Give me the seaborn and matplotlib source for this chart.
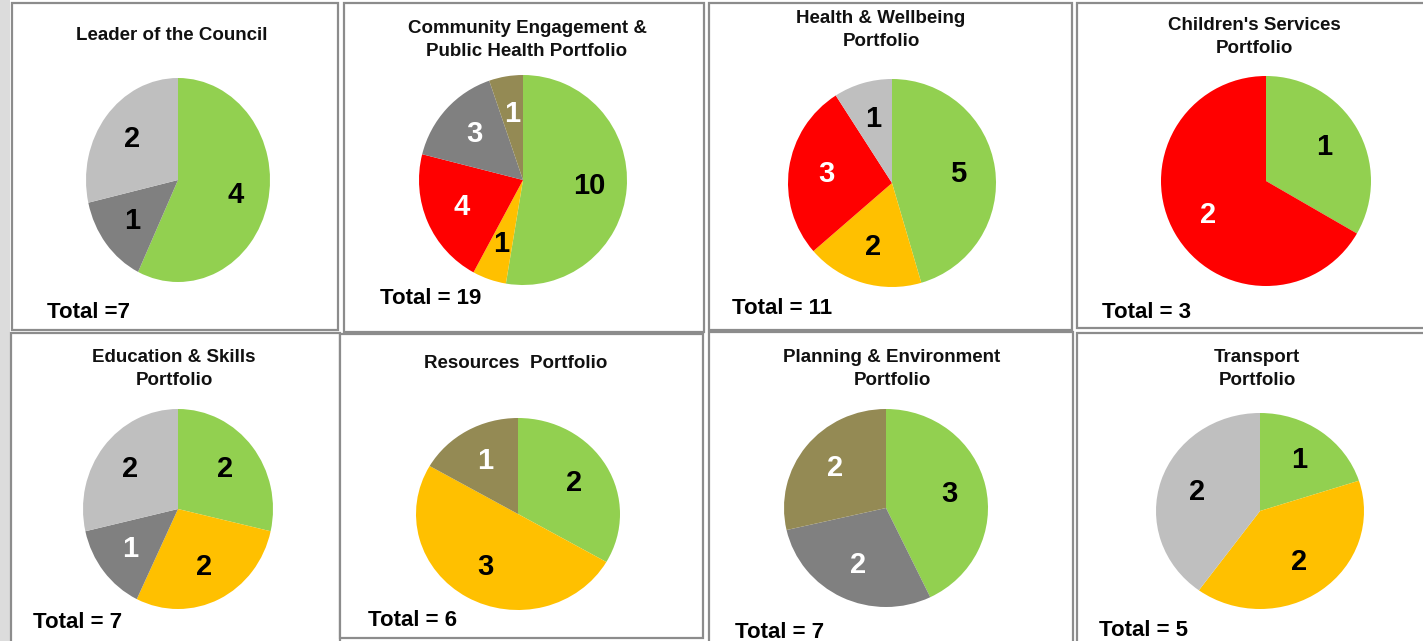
import numpy as np
import pandas as pd
import matplotlib.pyplot as plt
import seaborn as sns
from matplotlib.patches import Rectangle

# ---------------------------
# Data: action counts per portfolio
# ---------------------------
portfolios = ["Leader of the Council",
              "Community Engagement &\nPublic Health Portfolio",
              "Health & Wellbeing\nPortfolio",
              "Children's Services\nPortfolio",
              "Education & Skills\nPortfolio",
              "Resources  Portfolio",
              "Planning & Environment\nPortfolio",
              "Transport\nPortfolio"]

status = ["Green", "Amber", "Red", "Dark Grey", "Light Grey", "Olive"]
green = [4, 10, 5, 1, 2, 2, 3, 1]
amber = [0, 1, 2, 0, 2, 3, 0, 2]
red = [0, 4, 3, 2, 0, 0, 0, 0]
dark_grey = [1, 3, 0, 0, 1, 0, 2, 0]
light_grey = [2, 0, 1, 0, 2, 0, 0, 2]
olive = [0, 1, 0, 0, 0, 1, 2, 0]
total_sep = ["=", "= ", "= ", "= ", "= ", "= ", "= ", "= "]

df = pd.DataFrame({"Green": green, "Amber": amber, "Red": red,
                   "Dark Grey": dark_grey, "Light Grey": light_grey,
                   "Olive": olive}, index=portfolios)

# ---------------------------
# Styling
# ---------------------------
sns.set_theme(style="white")
plt.rcParams['font.family'] = ['Liberation Sans', 'DejaVu Sans']

palette = dict(zip(status, ["#92D050", "#FFC000", "#FF0000",
                            "#808080", "#BFBFBF", "#948A54"]))
text_col = {"Green": "black", "Amber": "black", "Red": "white",
            "Dark Grey": "white", "Light Grey": "black", "Olive": "white"}

# layout in pixels: box (x0, y0, x1, y1), title centre, pie centre + radii, total label
layout = [
    dict(box=(12, 3, 338, 330), title=(172, 35), pie=(178, 180, 92, 102), total=(47, 312)),
    dict(box=(344, 3, 704, 332), title=(527, 40), pie=(523, 180, 104, 105), total=(380, 298)),
    dict(box=(709, 3, 1072, 330), title=(881, 30), pie=(892, 183, 104, 104), total=(732, 308)),
    dict(box=(1077, 3, 1430, 328), title=(1254, 37), pie=(1266, 181, 105, 105), total=(1102, 312)),
    dict(box=(11, 333, 340, 645), title=(174, 369), pie=(178, 509, 95, 100), total=(33, 623)),
    dict(box=(340, 334, 703, 638), title=(516, 364), pie=(518, 514, 102, 96), total=(368, 620)),
    dict(box=(709, 332, 1073, 645), title=(892, 369), pie=(886, 508, 102, 99), total=(735, 632)),
    dict(box=(1077, 333, 1430, 645), title=(1257, 369), pie=(1260, 511, 104, 98), total=(1099, 630)),
]

W, H = 1423, 641
fig = plt.figure(figsize=(W / 100, H / 100), dpi=100)
fig.patch.set_facecolor("white")

bg = fig.add_axes([0, 0, 1, 1])
bg.set_xlim(0, W)
bg.set_ylim(H, 0)
bg.axis("off")
bg.add_patch(Rectangle((0, 0), 10, H, facecolor="#DCDCDC", edgecolor="none"))

for i, name in enumerate(portfolios):
    lay = layout[i]
    x0, y0, x1, y1 = lay["box"]
    bg.add_patch(Rectangle((x0, y0), x1 - x0, y1 - y0, facecolor="white",
                           edgecolor="#8C8C8C", linewidth=1.6))
    bg.text(lay["title"][0], lay["title"][1], name, ha="center", va="center",
            fontsize=13.5, fontweight="bold", color="#111111", linespacing=1.45)

    row = df.loc[name]
    row = row[row > 0]
    total = int(row.sum())
    bg.text(lay["total"][0], lay["total"][1], f"Total {total_sep[i]}{total}",
            ha="left", va="center", fontsize=16, fontweight="bold", color="black")

    cx, cy, rx, ry = lay["pie"]
    ax = fig.add_axes([(cx - rx) / W, 1 - (cy + ry) / H, 2 * rx / W, 2 * ry / H])
    wedges, _, autotexts = ax.pie(row.values, colors=[palette[s] for s in row.index],
                                  startangle=90, counterclock=False,
                                  autopct=lambda p, t=total: f"{round(p * t / 100)}",
                                  pctdistance=0.64, radius=1,
                                  wedgeprops=dict(linewidth=0))
    for s, txt in zip(row.index, autotexts):
        c = text_col[s]
        if i == 0 and s == "Dark Grey":
            c = "black"
        txt.set_color(c)
        txt.set_fontsize(21)
        txt.set_fontweight("bold")
    ax.set_aspect("auto")
    ax.set_xlim(-1, 1)
    ax.set_ylim(-1, 1)
    ax.axis("off")

plt.savefig("out.png", dpi=100)
